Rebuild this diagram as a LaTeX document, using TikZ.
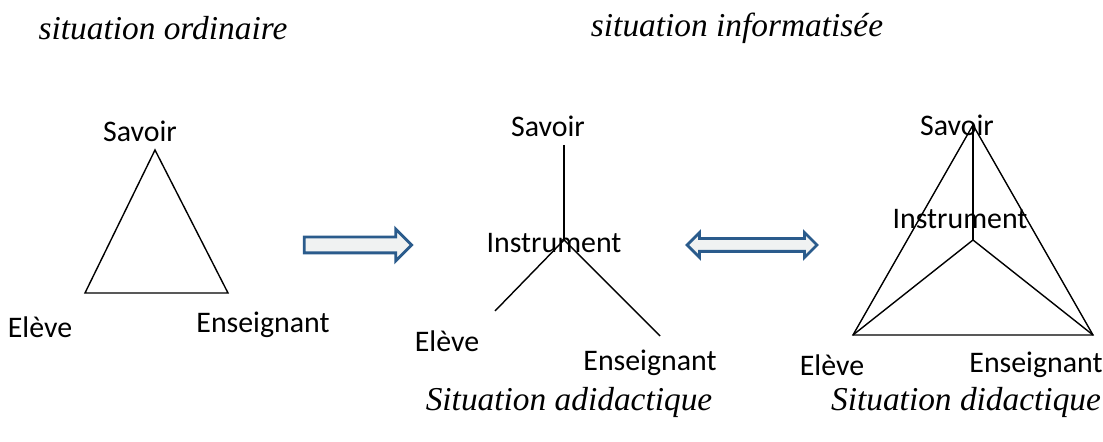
\documentclass[tikz,border=0pt]{standalone}
\usepackage{fontspec}
\setmainfont{Liberation Serif}
\newfontfamily\labelfont{Carlito}
\usepackage{xcolor}
\definecolor{cArrow}{HTML}{2A5B8C}
\definecolor{cFill}{HTML}{F0F2F2}
\usepackage{tikz}
\usetikzlibrary{positioning,shapes.arrows}
\tikzset{
  node-label/.style={inner sep=0pt,font=\labelfont\fontsize{17}{19}\selectfont},
  node-title/.style={inner sep=0pt,font=\itshape\fontsize{19}{22}\selectfont},
  edge/.style={line width=0.8pt,draw=black},
  arrow-fat/.style={draw=cArrow,fill=cFill,line width=1.6pt,inner sep=0.13cm,
    minimum height=2.15cm},
}

\begin{document}
\begin{tikzpicture}[x=0.02cm,y=-0.02cm]
  \useasboundingbox (0,0) rectangle (1103,442);
  % titres
  \node[node-title] (t-ord) at (163,28) {situation ordinaire};
  \node[node-title] (t-inf) at (737,28) {situation informatisée};
  \node[node-title] (t-adi) at (569,402) {Situation adidactique};
  \node[node-title] (t-did) at (966,402) {Situation didactique};
  % situation ordinaire
  \coordinate (s1) at (155,150); \coordinate (e1) at (85,293); \coordinate (p1) at (228,293);
  \node[node-label] (ls1) at (140,131) {Savoir};
  \node[node-label] (le1) at (40,327) {Elève};
  \node[node-label] (lp1) at (263,325) {Enseignant};
  \draw[edge] (s1) -- (e1) -- (p1) -- cycle;
  % situation adidactique
  \coordinate (s2) at (564,145); \coordinate (i2) at (564,240);
  \coordinate (e2) at (495,311); \coordinate (p2) at (660,336);
  \node[node-label] (ls2) at (548,126) {Savoir};
  \node[node-label] (li2) at (554,243) {Instrument};
  \node[node-label] (le2) at (447,341) {Elève};
  \node[node-label] (lp2) at (650,363) {Enseignant};
  \draw[edge] (s2) -- (i2); \draw[edge] (i2) -- (e2); \draw[edge] (i2) -- (p2);
  % situation didactique
  \coordinate (s3) at (973,125); \coordinate (i3) at (973,240);
  \coordinate (e3) at (853,335); \coordinate (p3) at (1093,335);
  \node[node-label] (ls3) at (957,125) {Savoir};
  \node[node-label] (li3) at (960,219) {Instrument};
  \node[node-label] (le3) at (832,365) {Elève};
  \node[node-label] (lp3) at (1036,365) {Enseignant};
  \draw[edge] (s3) -- (e3) -- (p3) -- cycle;
  \draw[edge] (s3) -- (i3); \draw[edge] (i3) -- (e3); \draw[edge] (i3) -- (p3);
  % flèches
  \node[arrow-fat,single arrow,single arrow head extend=0.16cm] (a1) at (354,245) {};
  \node[arrow-fat,double arrow,double arrow head extend=0.12cm,minimum height=2.6cm,
    inner sep=0.1cm] (a2) at (752,245) {};
\end{tikzpicture}
\end{document}
